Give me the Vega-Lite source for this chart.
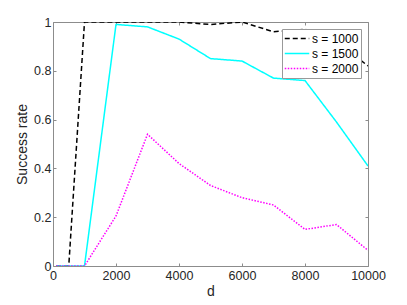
{
  "$schema": "https://vega.github.io/schema/vega-lite/v6.json",
  "autosize": {"type": "none"},
  "padding": {"left": 53, "top": 22, "right": 39, "bottom": 39},
  "width": 315,
  "height": 244,
  "background": "white",
  "config": {
    "font": "Liberation Sans",
    "view": {"stroke": null},
    "axis": {
      "grid": false,
      "domainColor": "#8c8c8c",
      "tickColor": "#8c8c8c",
      "labelColor": "#262626",
      "titleColor": "#262626",
      "labelFont": "Liberation Sans",
      "titleFont": "Liberation Sans",
      "labelFontSize": 12.5,
      "titleFontSize": 14,
      "titleFontWeight": "normal",
      "tickSize": -3,
      "domainWidth": 1,
      "tickWidth": 1
    }
  },
  "data": {
    "values": [
      {"d": 100, "rate": 0, "s": "s = 1000"},
      {"d": 500, "rate": 0, "s": "s = 1000"},
      {"d": 1000, "rate": 1, "s": "s = 1000"},
      {"d": 2000, "rate": 1, "s": "s = 1000"},
      {"d": 3000, "rate": 1, "s": "s = 1000"},
      {"d": 4000, "rate": 1, "s": "s = 1000"},
      {"d": 5000, "rate": 0.99, "s": "s = 1000"},
      {"d": 6000, "rate": 1, "s": "s = 1000"},
      {"d": 7000, "rate": 0.96, "s": "s = 1000"},
      {"d": 8000, "rate": 0.97, "s": "s = 1000"},
      {"d": 9000, "rate": 0.92, "s": "s = 1000"},
      {"d": 10000, "rate": 0.82, "s": "s = 1000"},
      {"d": 100, "rate": 0, "s": "s = 1500"},
      {"d": 500, "rate": 0, "s": "s = 1500"},
      {"d": 1000, "rate": 0, "s": "s = 1500"},
      {"d": 2000, "rate": 0.99, "s": "s = 1500"},
      {"d": 3000, "rate": 0.98, "s": "s = 1500"},
      {"d": 4000, "rate": 0.93, "s": "s = 1500"},
      {"d": 5000, "rate": 0.85, "s": "s = 1500"},
      {"d": 6000, "rate": 0.84, "s": "s = 1500"},
      {"d": 7000, "rate": 0.77, "s": "s = 1500"},
      {"d": 8000, "rate": 0.76, "s": "s = 1500"},
      {"d": 9000, "rate": 0.59, "s": "s = 1500"},
      {"d": 10000, "rate": 0.41, "s": "s = 1500"},
      {"d": 100, "rate": 0, "s": "s = 2000"},
      {"d": 500, "rate": 0, "s": "s = 2000"},
      {"d": 1000, "rate": 0, "s": "s = 2000"},
      {"d": 2000, "rate": 0.205, "s": "s = 2000"},
      {"d": 3000, "rate": 0.54, "s": "s = 2000"},
      {"d": 4000, "rate": 0.42, "s": "s = 2000"},
      {"d": 5000, "rate": 0.33, "s": "s = 2000"},
      {"d": 6000, "rate": 0.28, "s": "s = 2000"},
      {"d": 7000, "rate": 0.25, "s": "s = 2000"},
      {"d": 8000, "rate": 0.15, "s": "s = 2000"},
      {"d": 9000, "rate": 0.17, "s": "s = 2000"},
      {"d": 10000, "rate": 0.064, "s": "s = 2000"}
    ]
  },
  "layer": [
    {
      "mark": {"type": "line", "strokeWidth": 1.5, "clip": true},
      "encoding": {
        "x": {
          "field": "d", "type": "quantitative",
          "scale": {"domain": [0, 10000], "nice": false},
          "axis": {"values": [0, 2000, 4000, 6000, 8000, 10000], "title": "d", "labelPadding": 6, "titlePadding": 3, "format": "d", "labelFlush": false}
        },
        "y": {
          "field": "rate", "type": "quantitative",
          "scale": {"domain": [0, 1], "nice": false},
          "axis": {"values": [0, 0.2, 0.4, 0.6, 0.8, 1], "title": "Success rate", "labelPadding": 5, "titlePadding": 4, "format": "~g"}
        },
        "color": {
          "field": "s", "type": "nominal",
          "scale": {"domain": ["s = 1000", "s = 1500", "s = 2000"], "range": ["#000000", "#00FFFF", "#FF00FF"]},
          "legend": {
            "title": null,
            "orient": "top-right",
            "offset": 7,
            "symbolType": "stroke",
            "symbolSize": 600,
            "symbolStrokeWidth": 1.5,
            "labelFontSize": 12,
            "labelColor": "#000000",
            "labelFont": "Liberation Sans",
            "strokeColor": "#999999",
            "fillColor": "white",
            "padding": 2,
            "rowPadding": 0,
            "clipHeight": 15,
            "labelOffset": 2
          }
        },
        "strokeDash": {
          "field": "s", "type": "nominal",
          "scale": {"domain": ["s = 1000", "s = 1500", "s = 2000"], "range": [[5, 3], [1, 0], [1.5, 1.5]]},
          "legend": null
        }
      }
    },
    {
      "mark": {"type": "point", "opacity": 0},
      "encoding": {
        "x": {
          "field": "d", "type": "quantitative",
          "scale": {"domain": [0, 10000], "nice": false},
          "axis": {"orient": "top", "values": [0, 2000, 4000, 6000, 8000, 10000], "labels": false, "title": null}
        },
        "y": {
          "field": "rate", "type": "quantitative",
          "scale": {"domain": [0, 1], "nice": false},
          "axis": {"orient": "right", "values": [0, 0.2, 0.4, 0.6, 0.8, 1], "labels": false, "title": null}
        }
      }
    }
  ],
  "resolve": {"axis": {"x": "independent", "y": "independent"}}
}
